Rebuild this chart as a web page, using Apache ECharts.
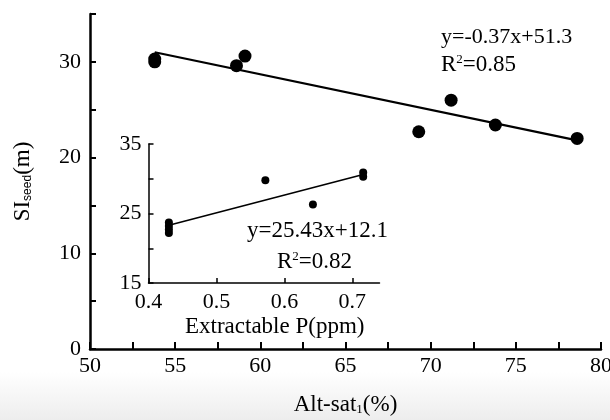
<!DOCTYPE html>
<html>
<head>
<meta charset="utf-8">
<script src="https://cdn.jsdelivr.net/npm/echarts@6/dist/echarts.min.js"></script>
<style>
    html, body { margin: 0; padding: 0; background: #fff; }
    #chart { width: 610px; height: 420px; }
</style>
</head>
<body>
<div id="chart"></div>
<script>
    // main panel: SI_seed against Alt-sat
    const altSat = [53.8, 53.8, 58.6, 59.1, 69.3, 71.2, 73.8, 78.6];
    const siSeed = [30.0, 30.3, 29.6, 30.6, 22.7, 26.0, 23.4, 22.0];
    const mainFitX = [53.8, 78.6];
    const mainFitY = [31.0, 21.8];

    // inset: SI_seed against extractable P
    const extP = [0.43, 0.43, 0.43, 0.43, 0.572, 0.642, 0.716, 0.716];
    const siSeedP = [23.7, 23.2, 22.7, 22.2, 29.8, 26.3, 30.3, 30.9];
    const insetFitX = [0.43, 0.716];
    const insetFitY = [23.3, 30.6];

    // ticks / labels
    const mainXTicks = [50, 52.5, 55, 57.5, 60, 62.5, 65, 67.5, 70, 72.5, 75, 77.5, 80];
    const mainXLabels = [50, 55, 60, 65, 70, 75, 80];
    const mainYTicks = [0, 5, 10, 15, 20, 25, 30, 35];
    const mainYLabels = [0, 10, 20, 30];
    const insetXLabels = [0.4, 0.5, 0.6, 0.7];
    const insetYTicks = [15, 20, 25, 30, 35];
    const insetYLabels = [15, 25, 35];

    const serif = '"Liberation Serif", "Times New Roman", serif';
    const zip = (xs, ys) => xs.map((x, i) => [x, ys[i]]);

    const chart = echarts.init(document.getElementById('chart'), null, { renderer: 'canvas' });

    const axisText = { color: '#000', fontFamily: serif, fontSize: 22 };
    const r2Rich = {
        a: { fontFamily: serif, fontSize: 23 },
        p: { fontFamily: serif, fontSize: 13, verticalAlign: 'top' }
    };

    const option = {
        animation: false,
        backgroundColor: '#fff',
        grid: [
            { left: 90, top: 14, width: 511, height: 335, outerBoundsMode: 'none', containLabel: false },
            { left: 148.5, top: 144, width: 231, height: 139, outerBoundsMode: 'none', containLabel: false }
        ],
        xAxis: [
            {
                type: 'value', gridIndex: 0, min: 50, max: 80,
                axisLine: { onZero: false, lineStyle: { color: '#000', width: 2.5 } },
                axisTick: { inside: true, length: 7, customValues: mainXTicks, lineStyle: { color: '#000', width: 2 } },
                axisLabel: { ...axisText, margin: 6, customValues: mainXLabels },
                splitLine: { show: false },
                name: '{a|Alt-sat}{s|1}{a|(%)}',
                nameLocation: 'middle',
                nameGap: 44,
                nameTextStyle: {
                    rich: {
                        a: { fontFamily: serif, fontSize: 23, color: '#000' },
                        s: { fontFamily: serif, fontSize: 13, color: '#000', verticalAlign: 'bottom' }
                    }
                }
            },
            {
                type: 'value', gridIndex: 1, min: 0.4, max: 0.74,
                axisLine: { onZero: false, lineStyle: { color: '#000', width: 1.5 } },
                axisTick: { inside: true, length: 5, customValues: insetXLabels, lineStyle: { color: '#000', width: 1.5 } },
                axisLabel: { ...axisText, margin: 8, customValues: insetXLabels },
                splitLine: { show: false }
            }
        ],
        yAxis: [
            {
                type: 'value', gridIndex: 0, min: 0, max: 35,
                axisLine: { onZero: false, lineStyle: { color: '#000', width: 2.5 } },
                axisTick: { inside: true, length: 6, customValues: mainYTicks, lineStyle: { color: '#000', width: 2 } },
                axisLabel: { ...axisText, margin: 9, customValues: mainYLabels },
                splitLine: { show: false },
                name: '{a|SI}{s|seed}{a|(m)}',
                nameLocation: 'middle',
                nameRotate: 90,
                nameGap: 56,
                nameTextStyle: {
                    rich: {
                        a: { fontFamily: serif, fontSize: 23, color: '#000' },
                        s: { fontFamily: '"Liberation Sans", sans-serif', fontSize: 12, color: '#000', verticalAlign: 'bottom' }
                    }
                }
            },
            {
                type: 'value', gridIndex: 1, min: 15, max: 35,
                axisLine: { onZero: false, lineStyle: { color: '#000', width: 1.5 } },
                axisTick: { inside: true, length: 5, customValues: insetYTicks, lineStyle: { color: '#000', width: 1.5 } },
                axisLabel: { ...axisText, margin: 7, customValues: insetYLabels },
                splitLine: { show: false }
            }
        ],
        graphic: [
            {
                type: 'rect', z: -10, silent: true,
                shape: { x: 0, y: 372, width: 610, height: 48 },
                style: {
                    fill: new echarts.graphic.LinearGradient(0, 0, 0, 1, [
                        { offset: 0, color: '#ffffff' },
                        { offset: 1, color: '#ededed' }
                    ])
                }
            },
            {
                type: 'text', left: 441, top: 26,
                style: { text: 'y=-0.37x+51.3', font: '22px ' + serif, fill: '#000' }
            },
            {
                type: 'text', left: 441, top: 53,
                style: { text: '{a|R}{p|2}{a|=0.85}', fill: '#000', rich: r2Rich }
            },
            {
                type: 'text', left: 247, top: 219,
                style: { text: 'y=25.43x+12.1', font: '23px ' + serif, fill: '#000' }
            },
            {
                type: 'text', left: 277, top: 250,
                style: { text: '{a|R}{p|2}{a|=0.82}', fill: '#000', rich: r2Rich }
            },
            {
                type: 'text', left: 185, top: 315,
                style: { text: 'Extractable P(ppm)', font: '23px ' + serif, fill: '#000' }
            }
        ],
        series: [
            {
                type: 'line', xAxisIndex: 0, yAxisIndex: 0,
                data: zip(mainFitX, mainFitY),
                symbol: 'none',
                lineStyle: { color: '#000', width: 2.2 },
                z: 2
            },
            {
                type: 'scatter', xAxisIndex: 0, yAxisIndex: 0,
                data: zip(altSat, siSeed),
                symbolSize: 13,
                itemStyle: { color: '#000', opacity: 1 },
                z: 3
            },
            {
                type: 'line', xAxisIndex: 1, yAxisIndex: 1,
                data: zip(insetFitX, insetFitY),
                symbol: 'none',
                lineStyle: { color: '#000', width: 1.6 },
                z: 2
            },
            {
                type: 'scatter', xAxisIndex: 1, yAxisIndex: 1,
                data: zip(extP, siSeedP),
                symbolSize: 8,
                itemStyle: { color: '#000', opacity: 1 },
                z: 3
            }
        ]
    };

    chart.setOption(option);
</script>
</body>
</html>
